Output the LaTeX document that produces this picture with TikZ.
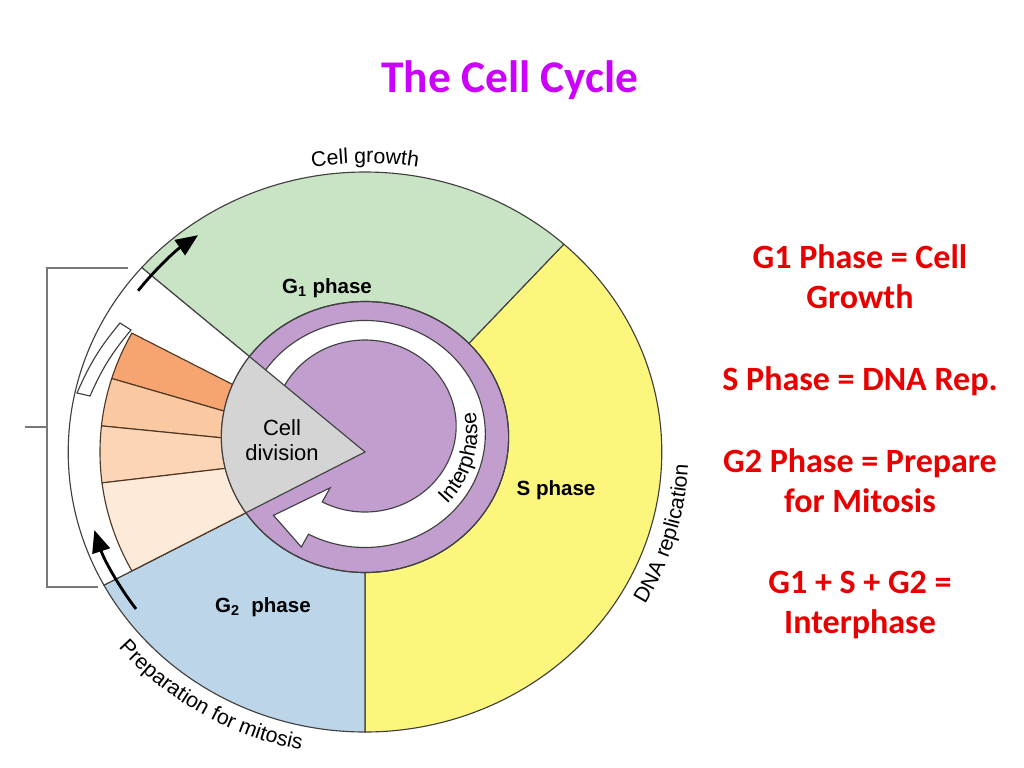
\documentclass[tikz,border=0pt]{standalone}
\usepackage{fontspec}
\setmainfont{Carlito}
\newfontfamily\labelfont{Liberation Sans}
\usetikzlibrary{arrows.meta, decorations.text}

\definecolor{gonegreen}{RGB}{201,228,196}
\definecolor{sphyellow}{RGB}{253,246,125}
\definecolor{gtwoblue}{RGB}{189,213,232}
\definecolor{interpurple}{RGB}{193,158,206}
\definecolor{divgrey}{RGB}{212,212,212}
\definecolor{orangeA}{RGB}{247,165,112}
\definecolor{orangeB}{RGB}{250,201,162}
\definecolor{orangeC}{RGB}{251,213,182}
\definecolor{orangeD}{RGB}{253,234,217}
\definecolor{edgegrey}{RGB}{64,64,64}
\definecolor{edgebrown}{RGB}{80,55,35}
\definecolor{bracketgrey}{RGB}{120,120,120}
\definecolor{titlepurple}{RGB}{204,0,255}
\definecolor{notered}{RGB}{232,0,0}

\tikzset{
  phase/.style={draw=edgegrey, line width=0.8pt},
  wedge/.style={draw=edgebrown, line width=0.8pt},
  bracket/.style={draw=bracketgrey, line width=0.9pt},
  ringlabel/.style={font=\labelfont\fontsize{14.5}{17}\selectfont\bfseries},
  cyclearrow/.style={line width=2pt, -{Triangle[length=5.5mm, width=4.5mm]}},
  curvedlabel/.style={decorate, decoration={text along path, text align=center,
      text={|\labelfont\fontsize{15}{17}\selectfont|#1}}},
  note/.style={font=\fontsize{24}{28}\selectfont\bfseries, text=notered, inner sep=0pt, anchor=base},
}

\begin{document}
\begin{tikzpicture}[x=0.0248cm, y=0.0248cm]
\useasboundingbox (0,0) rectangle (1024,-768);

% TITLE
\node[font=\fontsize{32}{38}\selectfont\bfseries, text=titlepurple, anchor=base] (title) at (510,-93) {The Cell Cycle};

% CYCLE (centre of the rim, stretched in x)
\begin{scope}[shift={(365,-452)}, xscale=1.06]
\newcommand{\rimrad}{280}
\newcommand{\wedgerad}{250}
\coordinate (O) at (0,0);
\coordinate (C) at (0,15);

% phases
\filldraw[phase, fill=gonegreen] (O) -- (138.8:\rimrad) arc[start angle=138.8, end angle=47.9, radius=\rimrad] -- cycle;
\filldraw[phase, fill=sphyellow] (O) -- (47.9:\rimrad) arc[start angle=47.9, end angle=-90, radius=\rimrad] -- cycle;
\filldraw[phase, fill=gtwoblue] (O) -- (-90:\rimrad) arc[start angle=-90, end angle=-151.6, radius=\rimrad] -- cycle;
\filldraw[phase, fill=white] (O) -- (138.8:\rimrad) arc[start angle=138.8, end angle=208.4, radius=\rimrad] -- cycle;

% mitosis stages
\foreach \a/\b/\c in {151.6/162.9/orangeA, 162.9/174/orangeB, 174/187.1/orangeC, 187.1/208.4/orangeD}
  \filldraw[wedge, fill=\c] (O) -- (\a:\wedgerad) arc[start angle=\a, end angle=\b, radius=\wedgerad] -- cycle;

% black arrows on the rim
\draw[cyclearrow] (143:268) arc[start angle=143, end angle=126, radius=268];
\draw[cyclearrow] (216:267) arc[start angle=216, end angle=197, radius=267];

% interphase disc
\filldraw[phase, fill=interpurple] (C) circle[radius=135.5];
\filldraw[phase, fill=white] ({113.5*cos(160)},{18+113.5*sin(160)})
  arc[start angle=160, end angle=-118, radius=113.5]
  -- ({128*cos(242)},{18+128*sin(242)})
  -- ({120*cos(224)},{20+120*sin(224)})
  -- ({70*cos(242)},{26+70*sin(242)})
  -- ({86*cos(242)},{26+86*sin(242)})
  arc[start angle=-118, end angle=160, radius=86] -- cycle;

% cell division wedge
\begin{scope}
\clip (C) circle[radius=135.5];
\filldraw[phase, fill=divgrey] (O) -- (138.8:200) -- (208.4:200) -- cycle;
\end{scope}
\draw[phase] (C) circle[radius=135.5];

% labels along the rim
\path[curvedlabel={Cell growth}] (110:289) arc[start angle=110, end angle=70, radius=289];
\path[curvedlabel={DNA replication}] (-46:305) arc[start angle=-46, end angle=14, radius=305];
\path[curvedlabel={Preparation for mitosis}] (204:304) arc[start angle=204, end angle=274, radius=304];
\path[curvedlabel={Interphase}] ({106*cos(-48)},{20+106*sin(-48)}) arc[start angle=-48, end angle=16, radius=106];
\end{scope}

% strip and bracket
\draw[phase] (120,-323) to[bend right=8] (77,-393) -- (90,-396) to[bend left=8] (131,-330) -- cycle;
\coordinate (brtop) at (128,-268);
\coordinate (brbot) at (98,-587);
\coordinate (brmid) at (25,-427);
\draw[bracket] (brtop) -- (47,-268) -- (47,-587) -- (brbot);
\draw[bracket] (brmid) -- (47,-427);

% phase names
\node[ringlabel] (gone) at (327,-288) {G\textsubscript{1} phase};
\node[ringlabel] (sph) at (556,-490) {S phase};
\node[ringlabel] (gtwo) at (263,-607) {G\textsubscript{2}\ \ phase};
\node[font=\labelfont\fontsize{15.5}{18}\selectfont, align=center] (mdiv) at (282,-440) {Cell\\division};

% NOTES
\foreach \ybase/\txt [count=\i] in {268/G1 Phase = Cell, 308/Growth, 390/S Phase = DNA Rep., 472/G2 Phase = Prepare, 512/for Mitosis, 593/G1 + S + G2 =, 633/Interphase}
  \node[note] (note\i) at (860,-\ybase) {\txt};

\end{tikzpicture}
\end{document}
